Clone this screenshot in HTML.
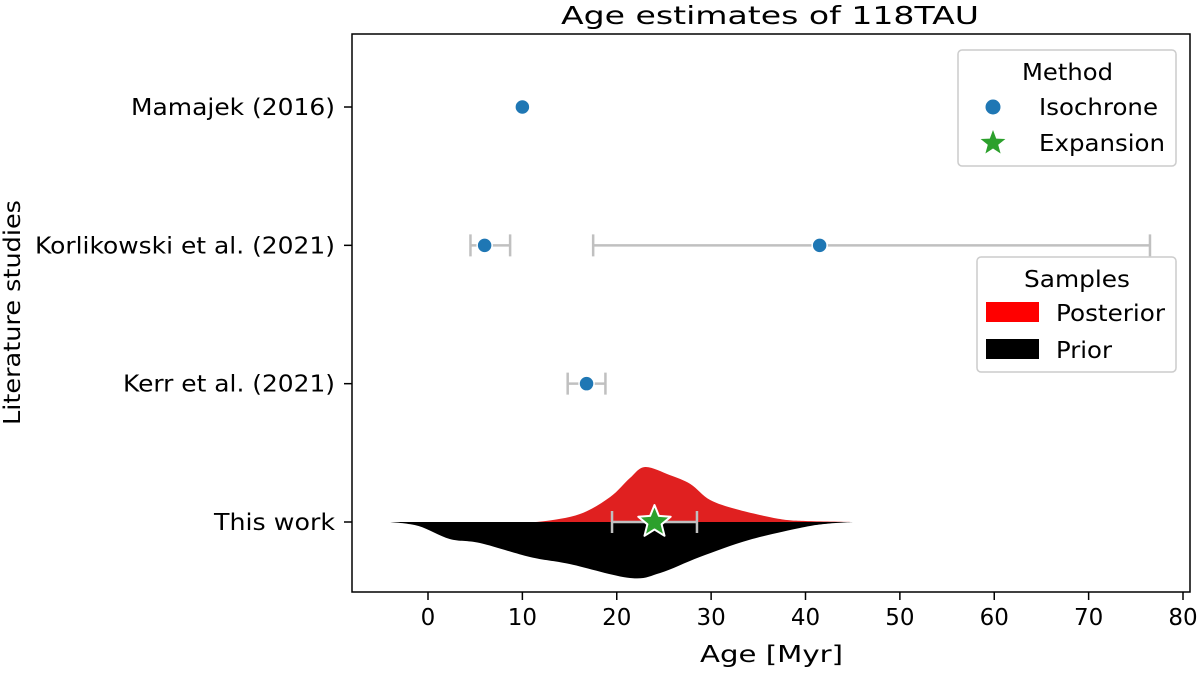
<!DOCTYPE html>
<html><head><meta charset="utf-8"><style>
body{margin:0;background:#fff;}
svg text{font-family:"DejaVu Sans","Liberation Sans",sans-serif;fill:#000;}
</style></head><body>
<svg id="chart" width="1200" height="668" viewBox="0 0 1200 668" xmlns="http://www.w3.org/2000/svg">
<g id="plot"></g>
</svg>
<script>
const categories = ["This work","Kerr et al. (2021)","Korlikowski et al. (2021)","Mamajek (2016)"];
const isoCat = [3, 2, 2, 1];
const isoAge = [10, 6.0, 41.5, 16.8];
const isoLo = [null, 4.5, 17.5, 14.8];
const isoHi = [null, 8.7, 76.5, 18.8];
const expAge = [24];
const expLo = [19.5];
const expHi = [28.5];
const postAges = [9, 12, 16.1, 19.3, 21.4, 23, 25.6, 27.8, 29.9, 33, 37.3, 40, 45];
const postDens = [0, 0.5, 8, 25, 44, 55, 47, 38, 22, 12, 3, 1, 0];
const priorAges = [-4, -1, 2.3, 5.5, 10.8, 15, 21.4, 24.6, 28.8, 34, 39.4, 42, 45];
const priorDens = [0, 4, 17, 21, 35, 42, 56, 51, 35, 18, 6, 2, 0];
const xTicks = [0,10,20,30,40,50,60,70,80];
const catLabelWidths = [121, 212, 300, 204];

const L=352,R=1190,T=34,B=592;
const xs=a=>428+a*9.4375;
const ys=c=>522-c*138.33;
const NS="http://www.w3.org/2000/svg";
const g=document.getElementById('plot');
function el(t,a,txt){const e=document.createElementNS(NS,t);for(const k in a)e.setAttribute(k,a[k]);if(txt!=null)e.textContent=txt;g.appendChild(e);return e;}
function smooth(pts){
 let d="M"+pts[0][0]+","+pts[0][1];
 for(let i=0;i<pts.length-1;i++){
  const p0=pts[Math.max(0,i-1)],p1=pts[i],p2=pts[i+1],p3=pts[Math.min(pts.length-1,i+2)];
  const c1=[p1[0]+(p2[0]-p0[0])/6,p1[1]+(p2[1]-p0[1])/6];
  const c2=[p2[0]-(p3[0]-p1[0])/6,p2[1]-(p3[1]-p1[1])/6];
  d+=` C${c1[0]},${c1[1]} ${c2[0]},${c2[1]} ${p2[0]},${p2[1]}`;
 }
 return d+" Z";
}
let p=el('path',{d:smooth(postAges.map((a,i)=>[xs(a),ys(0)-postDens[i]])),fill:'#e02020'});


p=el('path',{d:smooth(priorAges.map((a,i)=>[xs(a),ys(0)+priorDens[i]])),fill:'#000'});



function errbar(lo,hi,y,name){
 const gr=el('path',{d:`M${xs(lo)},${y} H${xs(hi)} M${xs(lo)},${y-11} V${y+11} M${xs(hi)},${y-11} V${y+11}`,stroke:'#c0c0c0','stroke-width':2.5,fill:'none'});
 
 
}
isoAge.forEach((a,i)=>{
 const y=ys(isoCat[i]);
 if(isoLo[i]!=null) errbar(isoLo[i],isoHi[i],y,'isochrone-errorbar');
 const c=el('circle',{cx:xs(a),cy:y,r:7.5,fill:'#1f77b4',stroke:'#fff','stroke-width':1.5});
 
 
});
function star(cx,cy,R1,r1){let s="";for(let k=0;k<10;k++){const rr=k%2?r1:R1;const an=-Math.PI/2+k*Math.PI/5;s+=(k?"L":"M")+(cx+rr*Math.cos(an)).toFixed(1)+","+(cy+rr*Math.sin(an)).toFixed(1);}return s+"Z";}
expAge.forEach((a,i)=>{
 errbar(expLo[i],expHi[i],ys(0),'expansion-errorbar');
 const s=el('path',{d:star(xs(a),ys(0),17,7.5),fill:'#2ca02c',stroke:'#fff','stroke-width':2,'stroke-linejoin':'round'});
 
 
});

const fr=el('rect',{x:L,y:T,width:R-L,height:B-T,fill:'none',stroke:'#000','stroke-width':1.5});


xTicks.forEach(t=>{
 const x=xs(t);
 const tk=el('line',{x1:x,x2:x,y1:B,y2:B+8,stroke:'#000','stroke-width':1.5});
 
 
 const tl=el('text',{x:x,y:B+33,'text-anchor':'middle','font-size':23},t);
 
 
});
categories.forEach((c,i)=>{
 const y=ys(i);
 const tk=el('line',{x1:L-8,x2:L,y1:y,y2:y,stroke:'#000','stroke-width':1.5});
 
 
 const tl=el('text',{x:L-17,y:y+8,'text-anchor':'end','font-size':23,textLength:catLabelWidths[i],lengthAdjust:'spacingAndGlyphs'},c);
 
 
});
function txt(x,y,s,name,w,extra){const a=Object.assign({x:x,y:y,'font-size':23,textLength:w,lengthAdjust:'spacingAndGlyphs'},extra||{});const t=el('text',a,s);return t;}
txt(700,662,'Age [Myr]','x-axis-title',143);
txt(0,0,'Literature studies','y-axis-title',225,{transform:'translate(20,425) rotate(-90)'});
txt(561,24,'Age estimates of 118TAU','chart-title',418,{'font-size':25});

let lg=el('rect',{x:958,y:50,width:218,height:116,rx:4,fill:'#fff',stroke:'#ccc','stroke-width':1.5});


txt(1022,80,'Method','method-legend-title',91);
let m=el('circle',{cx:993,cy:107,r:7.5,fill:'#1f77b4'});


txt(1039,115,'Isochrone','legend-entry-isochrone',119);
m=el('path',{d:star(993,143,13,5.5),fill:'#2ca02c'});


txt(1039,151,'Expansion','legend-entry-expansion',126);

lg=el('rect',{x:977,y:257,width:199,height:115,rx:4,fill:'#fff',stroke:'#ccc','stroke-width':1.5});


txt(1024,287,'Samples','samples-legend-title',106);
m=el('rect',{x:986,y:302,width:53,height:20,fill:'#ff0000'});


txt(1056,321,'Posterior','legend-entry-posterior',109);
m=el('rect',{x:986,y:339,width:53,height:20,fill:'#000'});


txt(1056,358,'Prior','legend-entry-prior',56);
</script>
</body></html>
